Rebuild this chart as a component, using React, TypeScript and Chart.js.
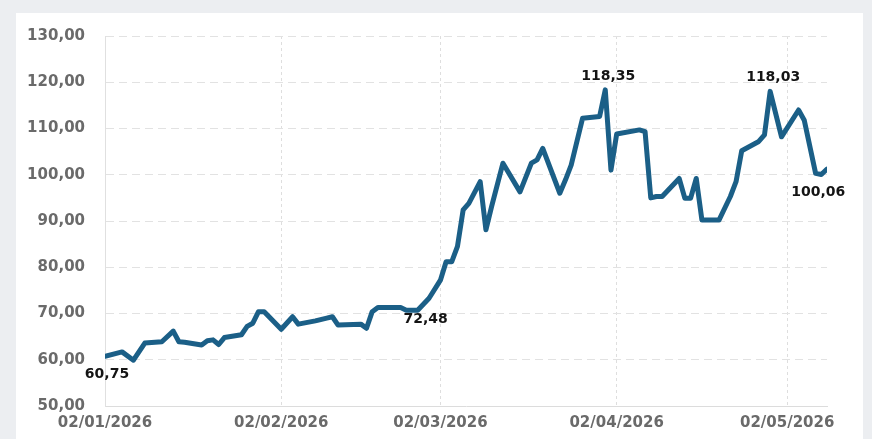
import React, { useEffect, useRef } from "react";
import { Chart, registerables } from "chart.js";

Chart.register(...registerables);

// ---- data ----
const dates: string[] = [
  "2026-01-02", "2026-01-05", "2026-01-07", "2026-01-09", "2026-01-12", "2026-01-14",
  "2026-01-15", "2026-01-16", "2026-01-19", "2026-01-20", "2026-01-21", "2026-01-22",
  "2026-01-23", "2026-01-26", "2026-01-27", "2026-01-28", "2026-01-29", "2026-01-30",
  "2026-02-02", "2026-02-04", "2026-02-05", "2026-02-08", "2026-02-10", "2026-02-11",
  "2026-02-12", "2026-02-16", "2026-02-17", "2026-02-18", "2026-02-19", "2026-02-23",
  "2026-02-24", "2026-02-26", "2026-02-28", "2026-03-02", "2026-03-03", "2026-03-04",
  "2026-03-05", "2026-03-06", "2026-03-07", "2026-03-09", "2026-03-10", "2026-03-11",
  "2026-03-13", "2026-03-16", "2026-03-18", "2026-03-19", "2026-03-20", "2026-03-23",
  "2026-03-24", "2026-03-25", "2026-03-27", "2026-03-30", "2026-03-31", "2026-04-01",
  "2026-04-02", "2026-04-06", "2026-04-07", "2026-04-08", "2026-04-09", "2026-04-10",
  "2026-04-13", "2026-04-14", "2026-04-15", "2026-04-16", "2026-04-17", "2026-04-20",
  "2026-04-22", "2026-04-23", "2026-04-24", "2026-04-27", "2026-04-28", "2026-04-29",
  "2026-05-01", "2026-05-04", "2026-05-05", "2026-05-07", "2026-05-08", "2026-05-09",
];

const prices: number[] = [
  60.75, 61.7, 59.9, 63.6, 63.9, 66.2,
  63.9, 63.8, 63.2, 64.1, 64.3, 63.3,
  64.8, 65.4, 67.2, 67.9, 70.4, 70.4,
  66.6, 69.3, 67.7, 68.4, 69.0, 69.3,
  67.5, 67.7, 66.8, 70.4, 71.3, 71.3,
  70.7, 70.7, 73.3, 77.2, 81.2, 81.2,
  84.5, 92.4, 93.8, 98.5, 88.1, 93.1,
  102.5, 96.3, 102.5, 103.2, 105.7, 96.0,
  98.9, 102.1, 112.2, 112.6, 118.35, 101.0,
  108.8, 109.7, 109.3, 95.0, 95.3, 95.3,
  99.2, 94.9, 94.9, 99.2, 90.2, 90.2,
  95.3, 98.5, 105.2, 107.2, 108.6, 118.03,
  108.2, 114.0, 111.8, 100.3, 100.06, 101.2,
];

const xTickDates: string[] = ["2026-01-02", "2026-02-02", "2026-03-02", "2026-04-02", "2026-05-02"];
const yTickValues: number[] = [50, 60, 70, 80, 90, 100, 110, 120, 130];

const noteDates: string[] = ["2026-01-02", "2026-02-26", "2026-03-31", "2026-04-29", "2026-05-08"];
const noteTexts: string[] = ["60,75", "72,48", "118,35", "118,03", "100,06"];

// ---- helpers ----
const DAY = 86400000;
const ORIGIN = Date.UTC(2026, 0, 2);
const dayOf = (s: string) => {
  const [y, m, d] = s.split("-").map(Number);
  return Math.round((Date.UTC(y, m - 1, d) - ORIGIN) / DAY);
};
const pad2 = (n: number) => (n < 10 ? "0" + n : "" + n);
const fmtDate = (day: number) => {
  const dt = new Date(ORIGIN + day * DAY);
  return pad2(dt.getUTCDate()) + "/" + pad2(dt.getUTCMonth() + 1) + "/" + dt.getUTCFullYear();
};
const fmtNum = (v: number) => v.toFixed(2).replace(".", ",");

// label offsets (style, in px) for each note
const noteOffsets: [number, number][] = [
  [2, 18],
  [8, 9],
  [3, -14],
  [3, -14],
  [-3, 18],
];

const notesPlugin = {
  id: "notes",
  afterDatasetsDraw(chart: any) {
    const { ctx, scales } = chart;
    const xs = scales.x;
    const ys = scales.y;
    ctx.save();
    ctx.font = 'bold 14px "DejaVu Sans"';
    ctx.fillStyle = "#141414";
    ctx.textAlign = "center";
    ctx.textBaseline = "middle";
    noteDates.forEach((d, i) => {
      const idx = dates.indexOf(d);
      if (idx < 0) return;
      const px = xs.getPixelForValue(dayOf(d));
      const py = ys.getPixelForValue(prices[idx]);
      ctx.fillText(noteTexts[i], px + noteOffsets[i][0], py + noteOffsets[i][1]);
    });
    ctx.restore();
  },
};

export default function App() {
  const ref = useRef<HTMLCanvasElement | null>(null);

  useEffect(() => {
    if (!ref.current) return;
    const points = dates.map((d, i) => ({ x: dayOf(d), y: prices[i] }));
    const xTicks = xTickDates.map(dayOf);
    const chart = new Chart(ref.current, {
      type: "line",
      data: {
        datasets: [
          {
            data: points,
            borderColor: "#1b5f87",
            borderWidth: 5,
            pointRadius: 0,
            tension: 0,
            borderJoinStyle: "round",
            borderCapStyle: "round",
            fill: false,
          },
        ],
      },
      options: {
        animation: false,
        responsive: false,
        maintainAspectRatio: false,
        devicePixelRatio: 1,
        layout: { padding: { left: 0, right: 45, top: 36, bottom: 0 } },
        plugins: {
          legend: { display: false },
          tooltip: { enabled: false },
          title: { display: false },
        },
        scales: {
          x: {
            type: "linear",
            min: 0,
            max: dayOf(dates[dates.length - 1]),
            afterBuildTicks: (s: any) => {
              s.ticks = xTicks.map((v) => ({ value: v }));
            },
            afterFit: (s: any) => {
              s.height = 33;
            },
            ticks: {
              autoSkip: false,
              maxRotation: 0,
              padding: 8,
              color: "#6a6a6a",
              font: { family: "DejaVu Sans", size: 15, weight: "bold" },
              callback: (v: any) => fmtDate(Number(v)),
            },
            grid: { color: "#dedede", lineWidth: 1, drawTicks: false },
            border: { display: true, color: "#dcdcdc", width: 1, dash: [3, 3] },
          },
          y: {
            type: "linear",
            min: 50,
            max: 130,
            afterBuildTicks: (s: any) => {
              s.ticks = yTickValues.map((v) => ({ value: v }));
            },
            afterFit: (s: any) => {
              s.width = 105;
            },
            ticks: {
              padding: 20,
              color: "#6a6a6a",
              font: { family: "DejaVu Sans", size: 15, weight: "bold" },
              callback: (v: any) => fmtNum(Number(v)),
            },
            grid: { color: "#e2e2e2", lineWidth: 1, drawTicks: false },
            border: { display: true, color: "#e0e0e0", width: 1, dash: [8, 5] },
          },
        },
      },
      plugins: [notesPlugin],
    } as any);
    return () => chart.destroy();
  }, []);

  return (
    <div style={{ position: "fixed", left: 0, top: 0, width: 872, height: 439, background: "#eceef1", overflow: "hidden" }}>
      <div style={{ position: "absolute", left: 16, top: 13, width: 847, height: 430, background: "#ffffff" }} />
      <canvas
        ref={ref}
        width={872}
        height={439}
        style={{ position: "absolute", left: 0, top: 0, width: 872, height: 439 }}
      />
    </div>
  );
}
